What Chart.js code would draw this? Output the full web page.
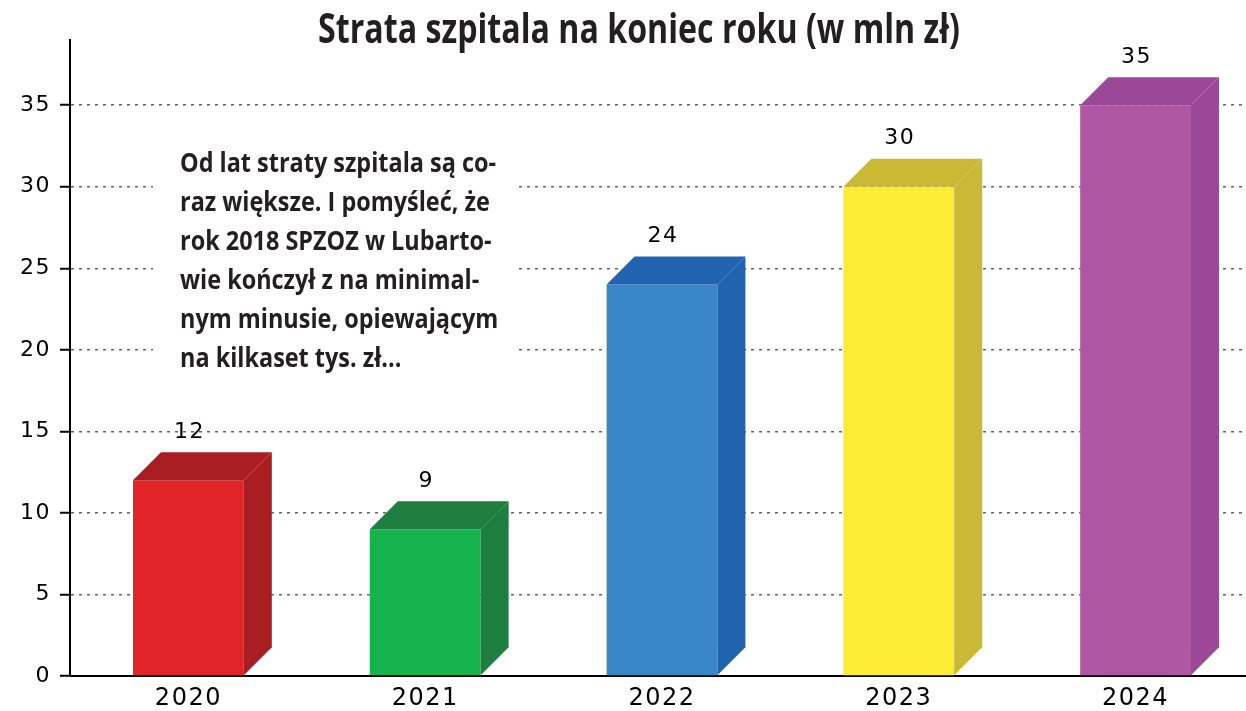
<!DOCTYPE html>
<html>
<head>
<meta charset="utf-8">
<script src="https://cdn.jsdelivr.net/npm/chart.js@4.4.1/dist/chart.umd.min.js"></script>
<style>
  html, body { margin: 0; padding: 0; background: #fff; overflow: hidden; }
  #wrap { width: 1254px; height: 711px; }
</style>
</head>
<body>
<div id="wrap"><canvas id="c" width="1254" height="711"></canvas></div>
<script>
// ---- data ----
const titleText = 'Strata szpitala na koniec roku (w mln zł)';
const categories = ['2020', '2021', '2022', '2023', '2024'];
const values = [12, 9, 24, 30, 35];
const frontColors = ['#e02428', '#16b34c', '#3a87c8', '#fbeb35', '#b057a4'];
const sideColors = ['#a81e22', '#1d7e3f', '#2263b0', '#c9b935', '#9b4898'];
const yTickStep = 5;
const yMax = 39;
const noteLines = [
  'Od lat straty szpitala są co-',
  'raz większe. I pomyśleć, że',
  'rok 2018 SPZOZ w Lubarto-',
  'wie kończył z na minimal-',
  'nym minusie, opiewającym',
  'na kilkaset tys. zł...'
];

const DEPTH = 28;
const tickFont = '"DejaVu Sans", Verdana, sans-serif';

const letterSpacingPlugin = {
  id: 'ls',
  beforeDraw(chart) { chart.ctx.letterSpacing = '1.5px'; },
  beforeDatasetsDraw(chart) { chart.ctx.letterSpacing = '0px'; }
};

const notePlugin = {
  id: 'note',
  beforeDatasetsDraw(chart) {
    const ctx = chart.ctx;
    ctx.save();
    ctx.fillStyle = '#ffffff';
    ctx.fillRect(153, 125, 362, 262);
    ctx.fillStyle = '#231f20';
    ctx.font = 'bold 26px "Open Sans", Roboto, sans-serif';
    ctx.textBaseline = 'alphabetic';
    ctx.textAlign = 'left';
    const w0 = ctx.measureText(noteLines[0]).width;
    const sx = 316 / w0;
    noteLines.forEach((line, i) => {
      ctx.save();
      ctx.translate(180, 172 + i * 38.9);
      ctx.scale(sx, 1);
      ctx.fillText(line, 0, 0);
      ctx.restore();
    });
    // title
    ctx.font = 'bold 41px "Open Sans", Roboto, sans-serif';
    const tw = ctx.measureText(titleText).width;
    const tsx = 642 / tw;
    ctx.save();
    ctx.translate(318, 43);
    ctx.scale(tsx, 1);
    ctx.fillText(titleText, 0, 0);
    ctx.restore();
    ctx.restore();
  }
};

const bar3dPlugin = {
  id: 'bar3d',
  afterDatasetsDraw(chart) {
    const ctx = chart.ctx;
    const meta = chart.getDatasetMeta(0);
    ctx.save();
    meta.data.forEach((el, i) => {
      const p = el.getProps(['x', 'y', 'base', 'width'], true);
      const l = p.x - p.width / 2, r = p.x + p.width / 2;
      ctx.fillStyle = sideColors[i];
      // top face
      ctx.beginPath();
      ctx.moveTo(l, p.y);
      ctx.lineTo(l + DEPTH, p.y - DEPTH);
      ctx.lineTo(r + DEPTH, p.y - DEPTH);
      ctx.lineTo(r, p.y);
      ctx.closePath();
      ctx.fill();
      // side face
      ctx.beginPath();
      ctx.moveTo(r, p.y);
      ctx.lineTo(r + DEPTH, p.y - DEPTH);
      ctx.lineTo(r + DEPTH, p.base - DEPTH);
      ctx.lineTo(r, p.base);
      ctx.closePath();
      ctx.fill();
      // value label
      ctx.fillStyle = '#000';
      ctx.font = '22px ' + tickFont;
      ctx.letterSpacing = '1.5px';
      ctx.textAlign = 'center';
      ctx.textBaseline = 'middle';
      ctx.fillText(String(values[i]), p.x + 1, p.y - DEPTH - 20);
      ctx.letterSpacing = '0px';
    });
    ctx.restore();
  }
};

new Chart(document.getElementById('c'), {
  type: 'bar',
  data: {
    labels: categories,
    datasets: [{
      data: values,
      backgroundColor: frontColors,
      borderWidth: 0,
      categoryPercentage: 1,
      barPercentage: 0.468
    }]
  },
  options: {
    responsive: false,
    animation: false,
    events: [],
    layout: { padding: { top: 40, left: 0, right: 0, bottom: 0 } },
    plugins: { legend: { display: false }, tooltip: { enabled: false }, title: { display: false } },
    scales: {
      x: {
        offset: true,
        grid: { display: false, drawTicks: false },
        border: { display: true, color: '#000', width: 2 },
        ticks: { color: '#000', font: { family: tickFont, size: 24 }, padding: 8 },
        afterFit(s) { s.height = 35; }
      },
      y: {
        min: 0,
        max: yMax,
        ticks: { stepSize: yTickStep, color: '#000', font: { family: tickFont, size: 22 }, padding: 9 },
        afterBuildTicks(s) { s.ticks = s.ticks.filter(t => t.value % yTickStep === 0); },
        grid: {
          color: c => (c.tick && c.tick.value === 0) ? 'rgba(0,0,0,0)' : '#666',
          lineWidth: 1.5,
          tickColor: '#000',
          tickLength: 10,
          tickWidth: 2,
          tickBorderDash: []
        },
        border: { display: true, color: '#000', width: 2, dash: [3, 5] },
        afterFit(s) { s.width = 70; }
      }
    }
  },
  plugins: [letterSpacingPlugin, notePlugin, bar3dPlugin]
});
</script>
</body>
</html>
